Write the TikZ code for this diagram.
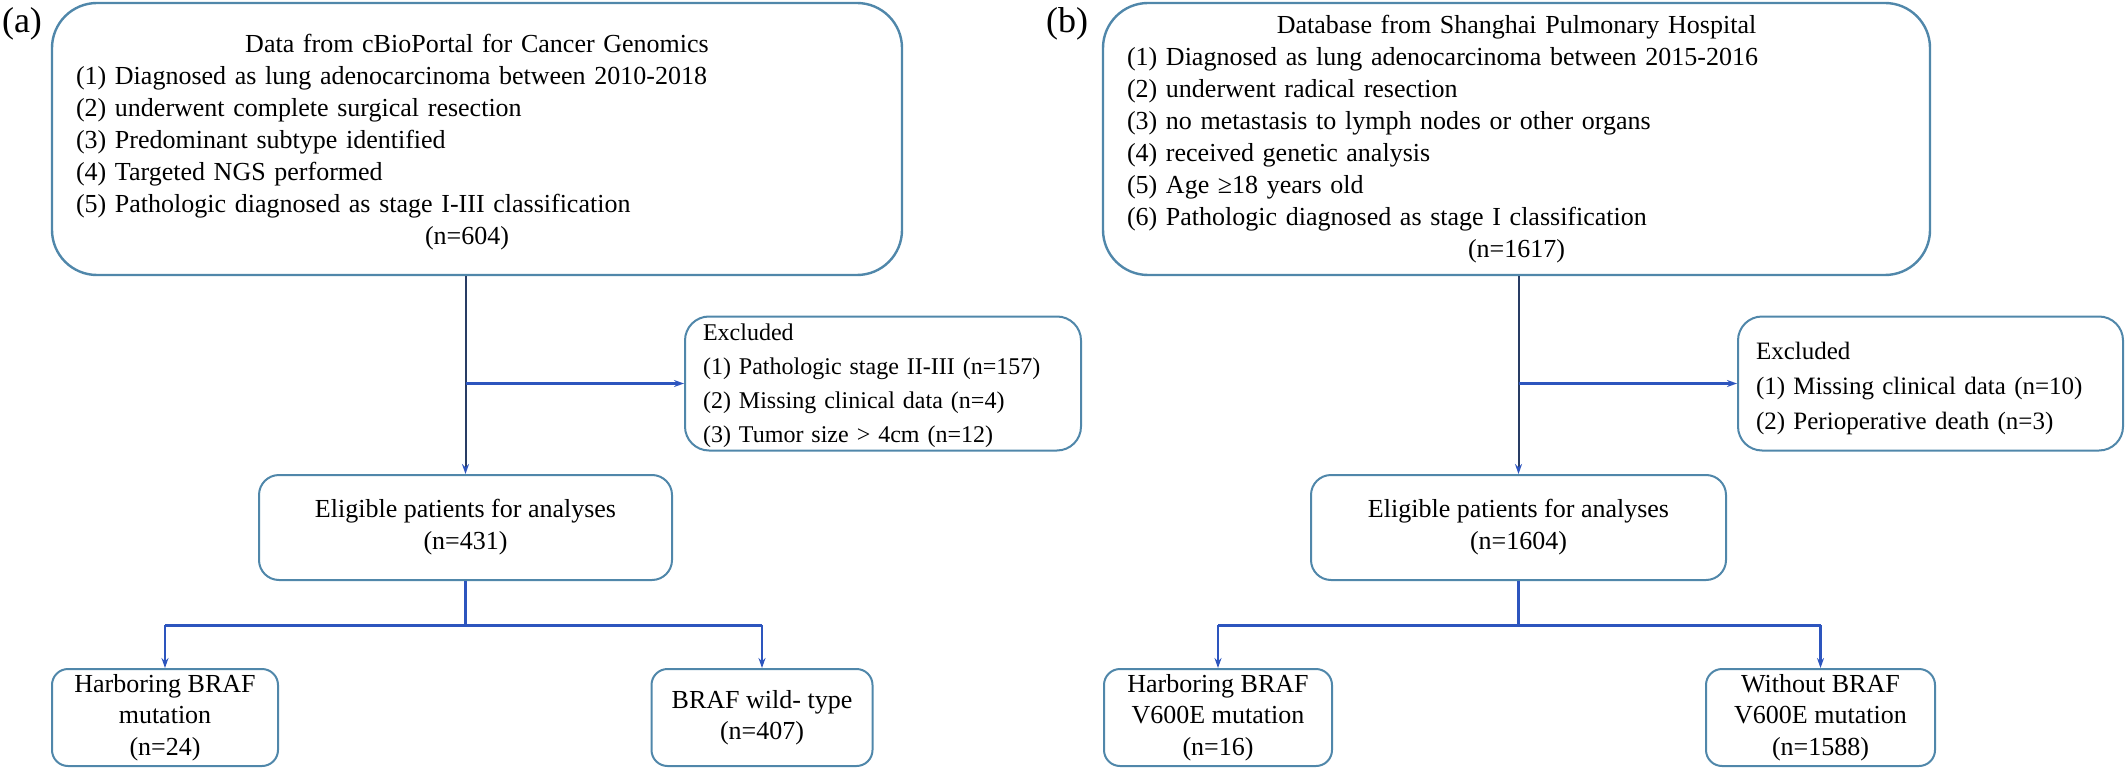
\documentclass[tikz,border=0pt]{standalone}
\usepackage{fontspec}
\setmainfont{Liberation Serif}
\usetikzlibrary{arrows.meta}
\definecolor{boxc}{RGB}{80,135,170}
\definecolor{navyc}{RGB}{40,60,100}
\definecolor{connc}{RGB}{45,85,190}
\begin{document}
\begin{tikzpicture}[x=1pt,y=-1pt,
  txt/.style={font=\fontsize{26}{32}\selectfont},
  panellabel/.style={font=\fontsize{36}{42}\selectfont, inner sep=0pt},
  bigbox/.style={draw=boxc, line width=2.4pt, rounded corners=45pt, inner xsep=24pt, inner ysep=0pt, txt, align=left},
  exbox/.style={draw=boxc, line width=2pt, rounded corners=24pt, inner xsep=18pt, inner ysep=0pt, align=left},
  midbox/.style={draw=boxc, line width=2pt, rounded corners=20pt, inner sep=0pt, txt, align=center},
  smallbox/.style={draw=boxc, line width=2pt, rounded corners=16pt, inner sep=0pt, font=\fontsize{26}{31.5}\selectfont, align=center},
  topline/.style={draw=navyc, line width=2pt, -{Stealth[length=10pt,width=7pt,color=connc]}},
  exline/.style={draw=connc, line width=2.4pt, -{Stealth[length=10pt,width=7pt]}},
  lowline/.style={draw=connc, line width=3pt},
  lowarrow/.style={draw=connc, line width=2.6pt, -{Stealth[length=10pt,width=7pt]}}
]
\useasboundingbox (0,0) rectangle (2128,770);

% ---------------- panel (a)
\node[panellabel] (la) at (22,24) {(a)};
\node[bigbox, minimum width=850pt, minimum height=272pt, text width=802pt] (topa) at (477,139)
 {\rule{0pt}{24pt}\makebox[\linewidth]{Data from cBioPortal for Cancer Genomics}\\
  (1) Diagnosed as lung adenocarcinoma between 2010-2018\\
  (2) underwent complete surgical resection\\
  (3) Predominant subtype identified\\
  (4) Targeted NGS performed\\
  (5) Pathologic diagnosed as stage I-III classification\\
  \makebox[\linewidth]{(n=604)\hspace{20pt}}};
\node[exbox, font=\fontsize{24}{34}\selectfont, minimum width=396pt, minimum height=134pt, text width=360pt] (exa) at (883,383.5)
 {\rule{0pt}{22pt}Excluded\\
  (1) Pathologic stage II-III (n=157)\\
  (2) Missing clinical data (n=4)\\
  (3) Tumor size > 4cm (n=12)};
\node[midbox, minimum width=413pt, minimum height=105pt] (elia) at (465.5,527.5)
 {Eligible patients for analyses\\(n=431)};
\node[smallbox, minimum width=226pt, minimum height=97pt] (bla) at (165,717.5)
 {Harboring BRAF\\mutation\\(n=24)};
\node[smallbox, minimum width=221pt, minimum height=97pt] (bra) at (762,717.5)
 {BRAF wild- type\\(n=407)};

\draw[topline] (elia.north |- topa.south) -- (elia.north);
\draw[exline] (elia.north |- exa.west) -- (exa.west);
\draw[lowline] (elia.south) -- ++(0,44) coordinate (ja);
\draw[lowline] (bla.north |- ja) -- (bra.north |- ja);
\draw[lowarrow] (bla.north |- ja) -- (bla.north);
\draw[lowarrow] (bra.north |- ja) -- (bra.north);

% ---------------- panel (b)
\node[panellabel] (lb) at (1067,24) {(b)};
\node[bigbox, minimum width=827pt, minimum height=272pt, text width=779pt] (topb) at (1516.5,139)
 {\makebox[\linewidth]{Database from Shanghai Pulmonary Hospital}\\
  (1) Diagnosed as lung adenocarcinoma between 2015-2016\\
  (2) underwent radical resection\\
  (3) no metastasis to lymph nodes or other organs\\
  (4) received genetic analysis\\
  (5) Age ≥18 years old\\
  (6) Pathologic diagnosed as stage I classification\\
  \makebox[\linewidth]{(n=1617)}};
\node[exbox, font=\fontsize{25}{35}\selectfont, minimum width=385pt, minimum height=134pt, text width=349pt] (exb) at (1930.5,383.5)
 {\rule{0pt}{27pt}Excluded\\
  (1) Missing clinical data (n=10)\\
  (2) Perioperative death (n=3)};
\node[midbox, minimum width=415pt, minimum height=105pt] (elib) at (1518.5,527.5)
 {Eligible patients for analyses\\(n=1604)};
\node[smallbox, minimum width=228pt, minimum height=97pt] (blb) at (1218,717.5)
 {Harboring BRAF\\V600E mutation\\(n=16)};
\node[smallbox, minimum width=229pt, minimum height=97pt] (brb) at (1820.5,717.5)
 {Without BRAF\\V600E mutation\\(n=1588)};

\draw[topline] (elib.north |- topb.south) -- (elib.north);
\draw[exline] (elib.north |- exb.west) -- (exb.west);
\draw[lowline] (elib.south) -- ++(0,44) coordinate (jb);
\draw[lowline] (blb.north |- jb) -- (brb.north |- jb);
\draw[lowarrow] (blb.north |- jb) -- (blb.north);
\draw[lowarrow] (brb.north |- jb) -- (brb.north);
\end{tikzpicture}
\end{document}
